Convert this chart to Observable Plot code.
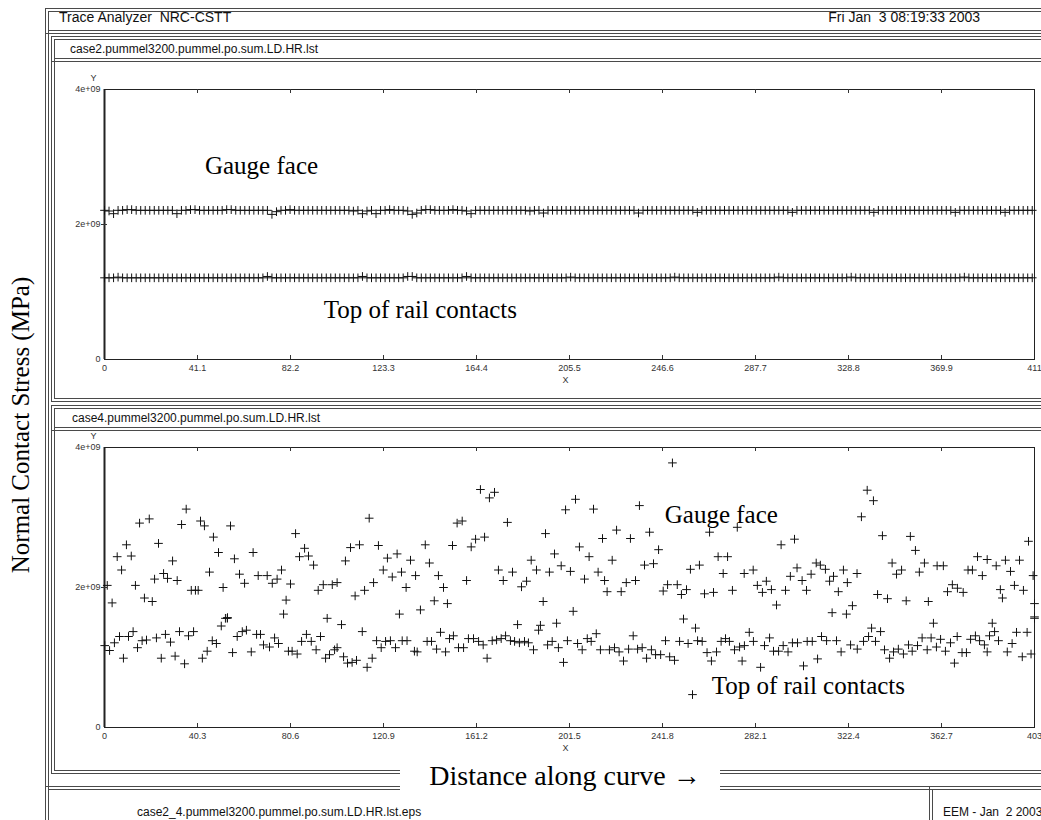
<!DOCTYPE html>
<html><head><meta charset="utf-8">
<script src="https://cdn.jsdelivr.net/npm/d3@7"></script>
<script src="https://cdn.jsdelivr.net/npm/@observablehq/plot@0.6"></script>
<style>
body{margin:0;background:#fff;}
#page{position:relative;width:1041px;height:820px;overflow:hidden;font-family:"Liberation Sans",Arial,sans-serif;background:#fff;}
.box{position:absolute;border:4px double #4a4a4a;box-sizing:border-box;}
.txt{position:absolute;white-space:pre;font-size:12px;color:#111;line-height:1;}
.big{font-size:14px;}
.serif{position:absolute;white-space:pre;font-family:"Liberation Serif","Times New Roman",serif;font-size:25px;color:#000;line-height:1;}
.plot{position:absolute;left:0;}
</style></head><body><div id="page">
<div class="box" style="left:45px;top:8px;width:1100px;height:900px;"></div>
<div class="box" style="left:45px;top:8px;width:1100px;height:26px;"></div>
<div class="txt big" style="left:59px;top:10px;">Trace Analyzer  NRC-CSTT</div>
<div class="txt big" style="right:61px;top:10px;">Fri Jan  3 08:19:33 2003</div>
<div class="box" style="left:51px;top:36px;width:1100px;height:366px;"></div>
<div class="box" style="left:51px;top:36px;width:1100px;height:26px;"></div>
<div class="txt" style="left:70px;top:43px;">case2.pummel3200.pummel.po.sum.LD.HR.lst</div>
<div class="box" style="left:51px;top:405px;width:1100px;height:369px;"></div>
<div class="box" style="left:51px;top:405px;width:1100px;height:26px;"></div>
<div class="txt" style="left:72px;top:412px;">case4.pummel3200.pummel.po.sum.LD.HR.lst</div>
<div class="box" style="left:45px;top:786px;width:1100px;height:100px;"></div>
<div class="box" style="left:929px;top:786px;width:200px;height:100px;"></div>
<div class="txt" style="left:137px;top:806px;">case2_4.pummel3200.pummel.po.sum.LD.HR.lst.eps</div>
<div class="txt" style="left:943px;top:806px;">EEM - Jan  2 2003</div>
<div style="position:absolute;left:400px;top:761px;width:320px;height:31px;background:#fff;"></div>
<div class="serif" style="left:565px;top:762px;font-size:28px;transform:translateX(-50%);">Distance along curve →</div>
<div class="serif" style="left:20px;top:425px;transform:translate(-50%,-50%) rotate(-90deg);">Normal Contact Stress (MPa)</div>
<div id="p1" class="plot" style="top:62px;"></div>
<div id="p2" class="plot" style="top:430px;"></div>
</div>
<script>
// ---------- data ----------
const xTicks1 = [0, 41.1, 82.2, 123.3, 164.4, 205.5, 246.6, 287.7, 328.8, 369.9, 411];
const xTicks2 = [0, 40.3, 80.6, 120.9, 161.2, 201.5, 241.8, 282.1, 322.4, 362.7, 403];
const yTicks = [0, 2e9, 4e9];
const yTickLabels = ["0", "2e+09", "4e+09"];
const stationStep1 = 2; // sample spacing along the curve, panel 1

// panel 1 (case2), values in 1e9 units, one per station
const gaugeFace1 = [
2.21,2.20,2.16,2.21,2.21,2.22,2.22,2.21,2.21,2.21,2.21,2.21,2.21,2.21,2.21,2.21,2.16,2.21,2.21,2.22,
2.22,2.21,2.21,2.21,2.21,2.21,2.21,2.22,2.22,2.21,2.21,2.21,2.21,2.21,2.21,2.21,2.21,2.15,2.19,2.21,
2.21,2.22,2.21,2.21,2.21,2.21,2.21,2.21,2.21,2.21,2.21,2.21,2.21,2.21,2.21,2.20,2.21,2.16,2.20,2.21,
2.16,2.21,2.21,2.22,2.21,2.21,2.21,2.20,2.15,2.17,2.21,2.22,2.22,2.21,2.21,2.21,2.21,2.22,2.21,2.21,
2.20,2.16,2.21,2.21,2.21,2.21,2.21,2.21,2.21,2.21,2.21,2.21,2.21,2.21,2.20,2.21,2.21,2.17,2.21,2.21,
2.21,2.21,2.21,2.21,2.21,2.21,2.21,2.21,2.21,2.21,2.21,2.21,2.21,2.21,2.21,2.21,2.21,2.21,2.17,2.21,
2.21,2.21,2.21,2.21,2.21,2.21,2.21,2.21,2.21,2.21,2.21,2.18,2.21,2.21,2.21,2.21,2.21,2.21,2.21,2.21,
2.21,2.21,2.21,2.21,2.21,2.21,2.21,2.21,2.21,2.21,2.21,2.21,2.18,2.21,2.21,2.21,2.21,2.21,2.21,2.21,
2.21,2.21,2.21,2.21,2.21,2.21,2.21,2.21,2.21,2.21,2.18,2.21,2.21,2.21,2.21,2.21,2.21,2.21,2.21,2.21,
2.21,2.21,2.21,2.21,2.21,2.21,2.21,2.21,2.18,2.21,2.21,2.21,2.21,2.21,2.21,2.21,2.21,2.21,2.21,2.18,
2.21,2.21,2.21,2.21,2.21,2.21];
const topRail1 = [
1.21,1.21,1.21,1.22,1.21,1.21,1.21,1.21,1.21,1.21,1.21,1.21,1.21,1.21,1.21,1.21,1.21,1.21,1.21,1.21,
1.21,1.21,1.21,1.21,1.21,1.21,1.21,1.21,1.21,1.21,1.21,1.21,1.21,1.21,1.21,1.21,1.23,1.21,1.21,1.21,
1.21,1.21,1.21,1.21,1.21,1.21,1.21,1.21,1.21,1.21,1.21,1.21,1.21,1.21,1.21,1.21,1.21,1.23,1.21,1.21,
1.21,1.21,1.21,1.21,1.21,1.21,1.21,1.23,1.23,1.21,1.21,1.21,1.21,1.21,1.21,1.21,1.21,1.21,1.21,1.21,
1.23,1.21,1.21,1.21,1.21,1.21,1.21,1.21,1.21,1.21,1.21,1.21,1.21,1.21,1.21,1.21,1.21,1.21,1.21,1.21,
1.21,1.21,1.21,1.22,1.21,1.21,1.21,1.21,1.21,1.21,1.21,1.21,1.21,1.21,1.21,1.21,1.21,1.21,1.21,1.21,
1.21,1.21,1.21,1.21,1.21,1.21,1.22,1.21,1.21,1.21,1.21,1.21,1.21,1.21,1.21,1.21,1.21,1.21,1.21,1.21,
1.21,1.21,1.21,1.21,1.21,1.21,1.21,1.21,1.21,1.22,1.21,1.21,1.21,1.21,1.21,1.21,1.21,1.21,1.21,1.21,
1.21,1.21,1.21,1.21,1.21,1.22,1.21,1.21,1.21,1.21,1.21,1.21,1.21,1.21,1.21,1.21,1.21,1.21,1.21,1.21,
1.21,1.21,1.21,1.21,1.21,1.21,1.21,1.21,1.21,1.21,1.22,1.21,1.21,1.21,1.21,1.21,1.21,1.21,1.21,1.21,
1.21,1.21,1.21,1.21,1.21,1.21];

// panel 2 (case4): [distance, stress in 1e9 units]
const gaugeFace2 = [[1.2,2.03],[3.3,1.78],[5.5,2.44],[7.4,2.25],[9.5,2.61],[11.6,2.45],[13.4,2.03],[15.2,2.92],[17.3,1.85],[19.4,2.98],[20.7,1.80],[21.7,2.12],[23.4,2.63],[25.6,2.20],[27.3,2.13],[29.5,2.38],[31.5,2.10],[33.4,2.90],[35.4,3.12],[37.6,1.96],[39.4,1.96],[40.6,1.96],[41.6,2.95],[43.3,2.88],[45.5,2.22],[47.2,2.72],[49.4,2.50],[51.4,2.00],[53.2,1.56],[54.6,2.88],[56.3,2.41],[58.5,2.19],[60.7,2.06],[64.4,2.50],[66.6,2.17],[70.5,2.17],[72.7,2.06],[74.8,2.12],[76.7,2.25],[77.6,1.62],[78.7,1.82],[80.6,2.05],[82.8,2.77],[84.5,2.44],[86.7,2.56],[88.4,2.45],[90.6,2.32],[92.6,1.96],[94.8,2.04],[96.5,1.56],[98.7,2.04],[100.8,2.07],[102.7,1.47],[104.4,2.38],[106.6,2.57],[108.6,1.88],[110.5,2.61],[112.7,1.96],[114.7,2.99],[116.6,2.07],[118.7,2.60],[120.8,2.25],[122.6,2.42],[124.7,2.15],[126.8,2.48],[127.8,1.62],[128.7,2.22],[130.7,2.00],[132.6,2.39],[134.8,2.17],[136.9,1.68],[139.0,2.61],[140.8,2.35],[142.9,1.81],[144.7,2.17],[146.9,2.00],[148.6,1.77],[150.8,2.60],[152.8,2.92],[155.0,2.95],[156.9,2.10],[158.9,2.58],[160.8,2.69],[162.9,3.40],[164.7,2.72],[166.8,3.28],[169.0,3.36],[170.7,2.25],[172.8,2.10],[174.6,2.93],[176.8,2.22],[179.0,1.47],[180.7,2.01],[182.9,2.09],[184.9,2.39],[187.2,2.25],[188.1,1.39],[190.1,1.80],[191.1,2.77],[192.8,2.22],[195.0,2.48],[195.9,1.49],[197.9,2.31],[199.8,3.11],[201.9,2.23],[203.1,1.66],[204.1,3.26],[205.8,2.58],[208.0,2.12],[210.0,2.44],[211.9,3.12],[213.9,2.22],[215.8,2.70],[216.7,2.10],[217.8,1.94],[220.0,2.39],[221.9,2.82],[223.9,1.94],[226.1,2.07],[227.9,2.70],[230.1,2.10],[231.8,3.17],[234.0,2.32],[236.2,2.79],[237.9,2.34],[240.1,2.54],[242.1,1.95],[244.0,2.04],[246.1,3.78],[248.2,2.04],[250.0,1.90],[250.9,1.55],[252.2,1.97],[253.9,2.26],[256.1,1.42],[257.8,2.32],[260.0,1.91],[262.2,2.79],[263.9,1.93],[265.9,2.44],[268.1,2.20],[270.0,2.44],[272.1,1.96],[274.2,2.86],[277.2,2.20],[281.1,2.25],[282.9,2.03],[285.1,1.93],[286.8,2.09],[289.0,1.97],[291.2,1.75],[293.2,2.61],[295.1,1.96],[297.2,2.16],[299.0,2.69],[300.1,2.28],[302.3,2.10],[304.2,1.96],[306.2,2.19],[308.4,2.35],[310.2,2.32],[312.4,2.26],[314.2,2.09],[315.3,1.64],[315.9,2.16],[318.0,1.94],[320.2,2.25],[321.5,1.62],[321.9,2.07],[324.1,1.74],[326.1,2.20],[328.0,3.01],[330.5,3.39],[333.2,3.24],[335.0,1.90],[337.1,2.74],[339.3,1.84],[341.3,2.35],[343.2,2.19],[345.4,2.25],[347.4,1.81],[349.2,2.73],[351.4,2.53],[353.1,2.22],[355.3,2.35],[357.0,1.80],[360.8,2.31],[363.5,2.31],[365.3,1.94],[367.4,2.04],[369.6,1.99],[372.1,1.93],[374.2,2.25],[376.1,2.25],[378.3,2.44],[380.4,2.17],[382.5,2.40],[386.4,2.31],[388.2,1.97],[389.1,1.85],[390.4,2.39],[392.6,2.23],[394.3,2.03],[396.5,2.39],[398.2,1.96],[400.4,2.66],[402.4,2.17],[403,1.77],[403,1.58]];
const topRail2 = [[0.1,1.17],[2.2,1.10],[4.3,1.21],[6.5,1.30],[8.2,0.99],[10.4,1.30],[12.4,1.37],[14.3,1.14],[16.3,1.24],[18.2,1.25],[22.5,1.28],[24.6,0.99],[26.4,1.33],[28.6,1.22],[30.6,1.02],[32.5,1.37],[34.7,0.91],[36.4,1.31],[38.6,1.37],[42.4,0.99],[44.5,1.09],[46.7,1.24],[48.5,1.20],[50.6,1.45],[52.4,1.56],[53.3,1.57],[55.5,1.07],[57.5,1.30],[59.7,1.37],[61.5,1.39],[63.6,1.08],[65.9,1.33],[67.6,1.33],[68.9,1.18],[71.5,1.15],[73.7,1.28],[75.4,1.20],[79.7,1.09],[81.3,1.09],[83.5,1.05],[85.4,1.23],[87.5,1.33],[89.6,1.23],[91.7,1.11],[93.6,1.30],[95.8,0.99],[97.5,1.04],[99.7,1.11],[100.8,1.14],[103.6,1.01],[105.3,0.92],[107.3,0.93],[109.2,0.96],[111.7,1.37],[113.8,0.86],[116.0,0.99],[117.9,1.24],[119.9,1.14],[121.8,1.23],[123.9,1.24],[126.1,1.14],[129.0,1.24],[131.1,1.24],[134.3,1.09],[135.5,1.08],[139.8,1.23],[141.7,1.23],[143.9,1.12],[145.6,1.36],[147.8,1.08],[149.5,1.27],[151.2,1.31],[153.4,1.14],[155.6,1.14],[157.7,1.27],[159.9,1.27],[162.1,1.23],[164.1,1.18],[165.8,0.99],[168.0,1.24],[169.9,1.25],[171.9,1.27],[173.8,1.31],[175.9,1.24],[177.7,1.23],[179.8,1.21],[182.0,1.23],[183.7,1.21],[185.9,1.11],[188.9,1.46],[192.0,1.18],[194.0,1.23],[196.7,1.14],[198.9,0.93],[200.6,1.24],[205.0,1.20],[207.0,1.11],[209.2,1.27],[210.9,1.23],[213.1,1.34],[214.9,1.11],[218.8,1.11],[221.0,1.14],[223.0,1.08],[224.9,0.95],[227.1,1.12],[229.1,1.31],[231.0,1.12],[233.0,1.14],[234.9,0.99],[237.0,1.11],[238.8,1.04],[241.0,1.04],[243.1,1.24],[244.9,1.01],[247.0,0.96],[249.2,1.23],[252.9,1.20],[254.8,0.47],[257.0,1.24],[259.0,1.23],[261.1,1.07],[263.0,0.95],[265.2,1.08],[267.2,1.23],[269.1,1.27],[270.8,1.23],[273.0,1.11],[275.2,1.15],[276.3,0.95],[277.3,1.17],[279.4,1.36],[281.2,1.23],[284.3,0.86],[286.0,1.17],[288.2,1.28],[289.9,1.09],[292.1,1.09],[294.1,1.17],[296.2,1.08],[298.1,1.21],[300.3,1.21],[302.9,0.88],[304.5,1.23],[306.7,1.23],[309.0,0.98],[310.7,1.30],[312.9,1.24],[317.2,1.24],[319.2,1.08],[323.3,1.18],[326.2,1.12],[328.9,1.23],[331.1,1.30],[332.4,1.42],[334.1,1.23],[336.3,1.37],[338.0,1.11],[340.2,0.99],[341.9,1.08],[344.0,1.12],[346.2,1.05],[348.4,1.18],[350.0,1.09],[352.3,1.17],[354.3,1.28],[356.5,1.11],[358.2,1.28],[359.2,1.49],[360.5,1.15],[362.3,1.26],[364.4,1.09],[366.6,1.21],[368.3,0.92],[369.5,1.30],[371.6,1.07],[373.5,1.07],[375.3,1.26],[377.4,1.31],[379.2,1.24],[381.3,1.18],[382.5,1.08],[383.5,1.31],[384.7,1.49],[385.7,1.37],[387.4,1.24],[391.2,1.08],[393.3,1.20],[395.2,1.36],[397.7,1.01],[399.8,1.36],[401.5,1.05],[403,1.56]];

// annotation labels: [text, distance, stress(1e9)]
const notes1 = [["Gauge face", 69.4, 2.87], ["Top of rail contacts", 139.6, 0.73]];
const notes2 = [["Gauge face", 267.3, 3.03], ["Top of rail contacts", 305, 0.6]];

// ---------- build ----------
const table1 = [
  ...gaugeFace1.map((v, i) => ({x: i * stationStep1, y: v * 1e9})),
  ...topRail1.map((v, i) => ({x: i * stationStep1, y: v * 1e9}))
];
const table2 = [...gaugeFace2, ...topRail2].map(([x, v]) => ({x, y: v * 1e9}));
const toNotes = n => n.map(([t, x, v]) => ({t, x, y: v * 1e9}));

function panel({data, xTicks, notes, marginTop, innerH, marginBottom}) {
  const mid = xTicks.slice(1, -1);
  return Plot.plot({
    width: 1041, height: marginTop + innerH + marginBottom,
    marginLeft: 104, marginRight: 7, marginTop, marginBottom,
    x: {domain: [0, xTicks[xTicks.length - 1]], label: null},
    y: {domain: [0, 4e9], label: null},
    style: {background: "transparent", overflow: "visible", fontFamily: "'Liberation Sans', Arial, sans-serif", color: "#333"},
    marks: [
      Plot.frame({stroke: "#222", strokeWidth: 1}),
      Plot.ruleX([0], {stroke: "#222", strokeWidth: 2}),
      Plot.tickX(mid, {x: d => d, stroke: "#333", insetTop: innerH - 4}),
      Plot.tickX(mid, {x: d => d, stroke: "#333", insetBottom: innerH - 4}),
      Plot.tickY([yTicks[1]], {y: d => d, stroke: "#333", insetLeft: -3, insetRight: 930 - 3}),
      Plot.axisX({ticks: xTicks, tickSize: 0, tickPadding: 5, fontSize: 9, label: null, tickFormat: d => String(d)}),
      Plot.axisY({ticks: yTicks, tickSize: 0, tickPadding: 4, fontSize: 9, label: null, tickFormat: d => yTickLabels[yTicks.indexOf(d)]}),
      Plot.text(["Y"], {frameAnchor: "top-left", dx: -14, dy: -15, fontSize: 9, fill: "#333"}),
      Plot.text(["X"], {frameAnchor: "bottom", dy: 23, dx: -4, fontSize: 9, fill: "#333"}),
      Plot.dot(data, {x: "x", y: "y", symbol: "plus", r: 2.9, stroke: "#111", strokeWidth: 1}),
      Plot.text(toNotes(notes), {x: "x", y: "y", text: "t", fontSize: 25, fill: "#000", fontFamily: "'Liberation Serif', 'Times New Roman', serif"})
    ]
  });
}

document.getElementById("p1").append(panel({data: table1, xTicks: xTicks1, notes: notes1, marginTop: 27, innerH: 270, marginBottom: 40}));
document.getElementById("p2").append(panel({data: table2, xTicks: xTicks2, notes: notes2, marginTop: 17, innerH: 280, marginBottom: 40}));
</script>
</body></html>
